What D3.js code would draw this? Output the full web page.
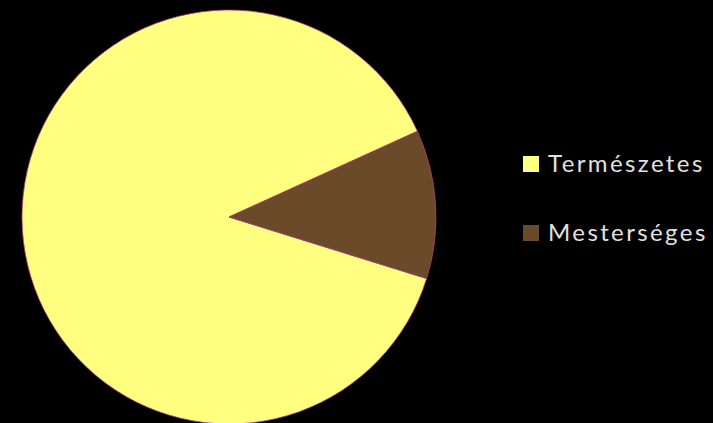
<!DOCTYPE html>
<html>
<head>
<meta charset="utf-8">
<script src="https://cdn.jsdelivr.net/npm/d3@7"></script>
<style>
  html, body { margin: 0; padding: 0; background: #000; }
  svg { display: block; }
</style>
</head>
<body>
<svg id="chart" width="713" height="423"></svg>
<script>
// Share of natural vs. artificial sources (percent)
const categories = ["Természetes", "Mesterséges"];
const values = [88.4, 11.6];
const colors = ["#FFFF80", "#6B4A2A"];

const svg = d3.select("#chart");
const width = 713, height = 423;
svg.append("rect").attr("width", width).attr("height", height).attr("fill", "#000");

const cx = 229, cy = 217, radius = 207;
const startDeg = 107.3;

const pie = d3.pie()
  .sort(null)
  .value(d => d.value)
  .startAngle(startDeg * Math.PI / 180)
  .endAngle((startDeg + 360) * Math.PI / 180);

const arc = d3.arc().innerRadius(0).outerRadius(radius);

const data = categories.map((c, i) => ({ name: c, value: values[i], color: colors[i] }));

const g = svg.append("g").attr("transform", `translate(${cx},${cy})`);
g.selectAll("path")
  .data(pie(data))
  .join("path")
  .attr("d", arc)
  .attr("fill", d => d.data.color)
  .attr("stroke", "#B0407A")
  .attr("stroke-width", 0.8)
  .attr("stroke-linejoin", "round");

// Legend
const legend = svg.append("g");
const legendY = [164, 233];
const item = legend.selectAll("g")
  .data(data)
  .join("g")
  .attr("transform", (d, i) => `translate(523,${legendY[i]})`);
item.append("rect")
  .attr("x", 0).attr("y", -8)
  .attr("width", 16).attr("height", 16)
  .attr("fill", d => d.color);
item.append("text")
  .attr("x", 25).attr("y", 8)
  .attr("fill", "#E0E0E0")
  .attr("font-family", "Lato, 'Open Sans', sans-serif")
  .attr("font-size", 24)
  .attr("letter-spacing", 2.4)
  .text(d => d.name);
</script>
</body>
</html>
